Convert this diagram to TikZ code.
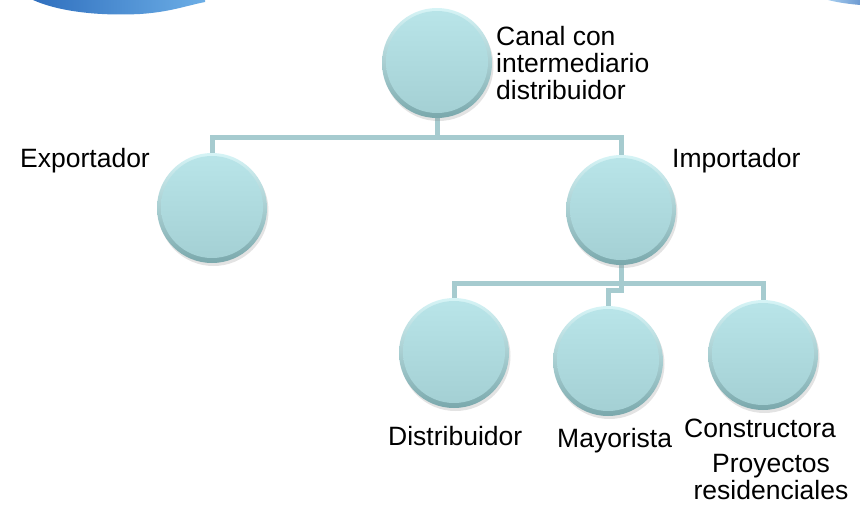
\documentclass[tikz,border=0pt]{standalone}
\usepackage{fontspec}
\setmainfont{Liberation Sans}
\usetikzlibrary{shadows}
\definecolor{rimtop}{HTML}{D6F4F6}
\definecolor{rimbot}{HTML}{7AA8AC}
\definecolor{innertop}{HTML}{B9E5E9}
\definecolor{innerbot}{HTML}{A3CFD3}
\definecolor{connc}{HTML}{A6CBCF}
\definecolor{wavedark}{HTML}{2F6FBE}
\definecolor{wavelight}{HTML}{6CAEE6}
\tikzset{
  ball/.style={circle, minimum size=110pt, inner sep=0pt,
    top color=rimtop, bottom color=rimbot,
    drop shadow={shadow xshift=1.5pt, shadow yshift=-3pt, opacity=0.22},
    path picture={\shade[top color=innertop, bottom color=innerbot]
      ([yshift=1pt]path picture bounding box.center) circle (51pt);}},
  conn/.style={draw=connc, line width=5pt, line join=miter},
  lbl/.style={inner sep=0pt, font=\fontsize{26.5}{27}\selectfont, text=black}
}
\begin{document}
\begin{tikzpicture}[x=1pt,y=-1pt]
\useasboundingbox (0,0) rectangle (860,504);
\fill[white] (0,0) rectangle (860,504);
% decorative waves
\shade[left color=wavedark, right color=wavelight]
  (33,0) .. controls (60,12) and (100,16) .. (140,14)
  .. controls (170,12) and (185,6) .. (205,2) -- (205,0) -- cycle;
\shade[left color=wavelight!60, right color=wavedark!70]
  (828,0) .. controls (840,3) and (850,4) .. (860,5) -- (860,0) -- cycle;
% circle positions
\coordinate (ctop) at (437,63);
\coordinate (cexp) at (212,208);
\coordinate (cimp) at (621,210);
\coordinate (cdist) at (454,353);
\coordinate (cmay) at (608,361);
\coordinate (ccons) at (763,355);
% invisible anchors for connectors
\path (ctop) node[circle, minimum size=110pt, inner sep=0pt] (top) {};
\path (cexp) node[circle, minimum size=110pt, inner sep=0pt] (exp) {};
\path (cimp) node[circle, minimum size=110pt, inner sep=0pt] (imp) {};
\path (cdist) node[circle, minimum size=110pt, inner sep=0pt] (dist) {};
\path (cmay) node[circle, minimum size=110pt, inner sep=0pt] (may) {};
\path (ccons) node[circle, minimum size=110pt, inner sep=0pt] (cons) {};
% connectors
\coordinate (j1) at (437,137);
\coordinate (j2) at (621,283);
\path[conn] (top.south) -- (j1);
\path[conn] (exp.north) -- (exp.north |- j1) -- (imp.north |- j1) -- (imp.north);
\path[conn] (dist.north) -- (dist.north |- j2) -- (cons.north |- j2) -- (cons.north);
\path[conn] (imp.south) -- ++(0,25) -| (may.north);
% circles drawn over connector ends
\node[ball] (btop) at (ctop) {};
\node[ball] (bexp) at (cexp) {};
\node[ball] (bimp) at (cimp) {};
\node[ball] (bdist) at (cdist) {};
\node[ball] (bmay) at (cmay) {};
\node[ball] (bcons) at (ccons) {};
% labels
\node[lbl, anchor=base west, align=left] (ltop) at (496,99)
  {Canal con\\intermediario\\distribuidor};
\node[lbl, anchor=base west] (lexp) at (20,167) {Exportador};
\node[lbl, anchor=base west] (limp) at (672,167) {Importador};
\node[lbl, anchor=base west] (ldist) at (388,445) {Distribuidor};
\node[lbl, anchor=base west] (lmay) at (557,447) {Mayorista};
\node[lbl, anchor=base west] (lcons) at (684,437) {Constructora};
\node[lbl, anchor=base, align=center] (lproy) at (771,499)
  {Proyectos\\residenciales};
\end{tikzpicture}
\end{document}
